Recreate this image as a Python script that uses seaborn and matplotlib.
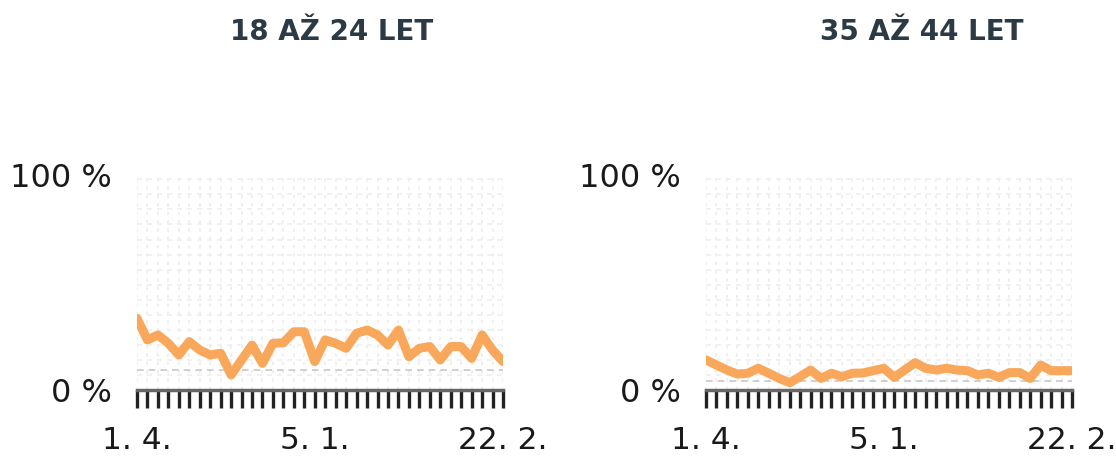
import numpy as np
import pandas as pd
import matplotlib.pyplot as plt
import seaborn as sns
from matplotlib.ticker import FixedLocator

# weekly survey share (%) by age group
young = [33.3, 23.3, 25.6, 21.7, 16.3, 22.5, 18.6, 16.3, 17.1, 7.0,
         14.0, 20.9, 12.4, 21.7, 22.0, 27.1, 27.1, 13.2, 23.3, 21.7,
         19.4, 26.4, 27.9, 25.6, 20.9, 27.9, 15.5, 19.4, 20.2, 14.0,
         20.2, 20.2, 14.7, 25.6, 18.6, 13.2]
middle = [14.0, 11.6, 9.3, 7.4, 7.8, 10.1, 7.8, 5.4, 3.4, 6.2,
          9.3, 5.4, 7.8, 6.2, 7.8, 7.9, 9.0, 10.1, 5.9, 9.3,
          12.7, 10.1, 9.3, 10.1, 9.3, 9.0, 7.0, 7.8, 5.9, 8.1,
          8.1, 5.4, 11.6, 9.0, 9.0, 9.0]
ref_lines = [9.5, 4.0]
titles = ["18 AŽ 24 LET", "35 AŽ 44 LET"]
date_labels = {0: "1. 4.", 17: "5. 1.", 35: "22. 2."}

sns.set_style("white")
plt.rcParams['font.family'] = ['DejaVu Sans']

fig = plt.figure(figsize=(11.16, 4.57), dpi=100)
axes = [fig.add_axes([137/1116, 67/457, 366/1116, 215/457]),
        fig.add_axes([706/1116, 67/457, 366/1116, 215/457])]
title_x = [332/1116, 922/1116]

n = len(young)
for ax, vals, ref, title, tx in zip(axes, [young, middle], ref_lines, titles, title_x):
    df = pd.DataFrame({"week": np.arange(n), "share": vals})
    # faint background grid
    for i in range(n):
        ax.axvline(i, color="#ececec", lw=1.2, ls=(0, (2, 3)), zorder=0)
    for v in np.arange(7, 100, 7):
        ax.axhline(v, color="#efefef", lw=1.2, ls=(0, (3, 3)), zorder=0)
    ax.axhline(ref, color="#c8c8c8", lw=1.2, ls=(0, (4, 3)), zorder=1)
    sns.lineplot(data=df, x="week", y="share", ax=ax, color="#f9a85b",
                 lw=6.5, zorder=3)
    ax.set_xlim(0, n - 1)
    ax.set_ylim(0, 100)
    ax.set_xlabel("")
    ax.set_ylabel("")
    ax.xaxis.set_major_locator(FixedLocator(list(range(n))))
    ax.set_xticklabels([date_labels.get(i, "") for i in range(n)])
    ax.set_yticks([0, 100])
    ax.set_yticklabels(["0 %", "100 %"])
    ax.tick_params(axis="x", bottom=True, length=13, width=2.4, color="#222222",
                   labelsize=22.5, pad=13, labelcolor="#1a1a1a", direction="out")
    ax.tick_params(axis="y", left=False, length=0, labelsize=23, pad=18,
                   labelcolor="#1a1a1a")
    for s in ["top", "right", "left"]:
        ax.spines[s].set_visible(False)
    ax.spines["bottom"].set_color("#666666")
    ax.spines["bottom"].set_linewidth(2.5)
    ax.grid(False)
    fig.text(tx, 0.93, title, ha="center", va="center", fontsize=20,
             fontweight="bold", color="#2b3a44")

fig.savefig("out.png", dpi=100)
